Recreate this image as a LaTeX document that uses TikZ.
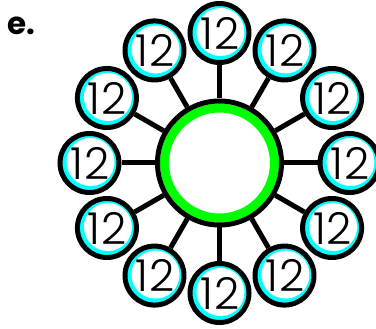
\documentclass[tikz,border=0pt]{standalone}
\usepackage{fontspec}
\setmainfont{Poppins}
\newfontfamily\thindigits{Poppins Light}
\definecolor{ringgreen}{RGB}{0,255,0}
\definecolor{ringcyan}{RGB}{0,255,255}
\tikzset{
  hub/.style={circle, draw=black, line width=5pt, fill=white, minimum size=124pt, inner sep=0pt,
    path picture={\draw[ringgreen, line width=9pt] (path picture bounding box.center) circle (55pt);}},
  leaf/.style={circle, draw=black, line width=5pt, fill=ringcyan, minimum size=59pt, inner sep=0pt,
    font=\thindigits\fontsize{44}{44}\selectfont,
    path picture={\fill[white] ([shift={(1pt,1pt)}]path picture bounding box.center) circle (24pt);}},
  spoke/.style={draw=black, line width=5pt},
  lbl/.style={font=\bfseries\fontsize{31}{31}\selectfont, inner sep=0pt, anchor=base west}
}
\begin{document}
\begin{tikzpicture}[x=1pt,y=1pt]
\useasboundingbox (0,-329) rectangle (376,0);
\node[hub] (c) at (219.5,-163) {};
\foreach \i in {0,...,11} {
  \path (c.center) ++(\i*30:130) node[leaf] (s\i) {\kern1pt1\kern1pt2};
  \draw[spoke] (c) -- (s\i);
}
\node[lbl] (e) at (7,-35) {e.};
\end{tikzpicture}
\end{document}
